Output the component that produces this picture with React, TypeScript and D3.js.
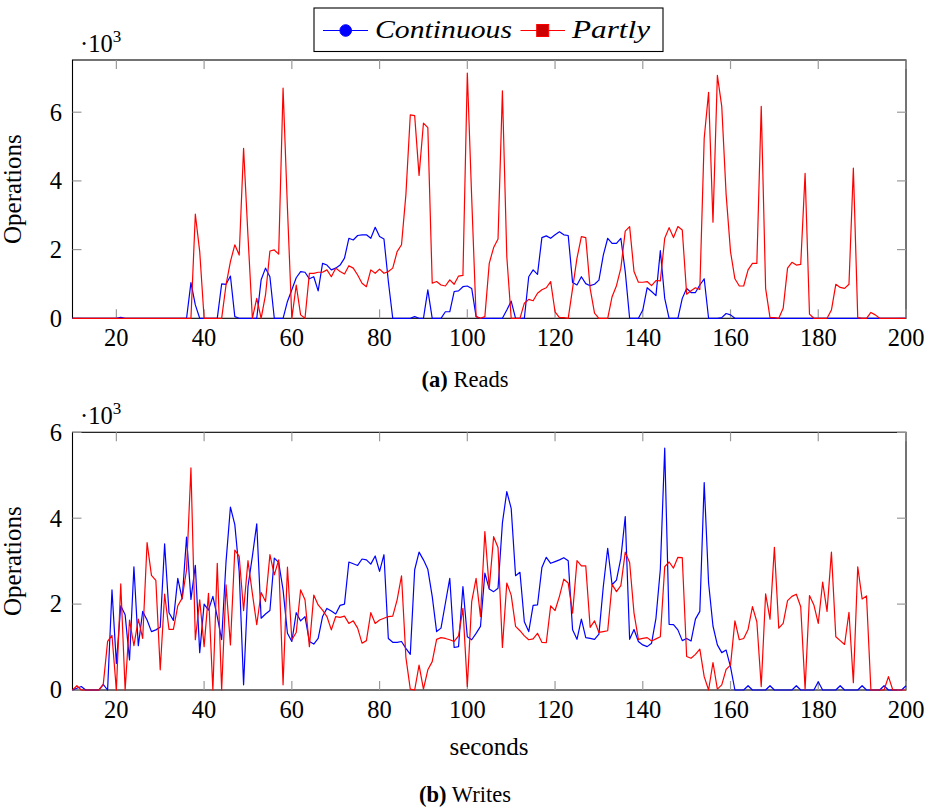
import * as d3 from 'd3'

// seconds 10..200, values in thousands of operations
const seconds = d3.range(10, 201)

const readsContinuous = [
  0, 0, 0, 0, 0, 0, 0, 0, 0, 0,
  0, 0.03, 0, 0, 0, 0, 0, 0, 0, 0,
  0, 0, 0, 0, 0, 0, 0, 1.04, 0.39, 0,
  0, 0, 0, 0, 1.0, 0.99, 1.23, 0.05, 0, 0,
  0, 0, 0, 1.12, 1.46, 1.21, 0, 0, 0, 0.49,
  0.83, 1.18, 1.36, 1.34, 1.15, 1.21, 0.8, 1.6, 1.55, 1.41,
  1.46, 1.55, 1.75, 2.33, 2.28, 2.41, 2.43, 2.43, 2.33, 2.65,
  2.38, 2.31, 1.07, 0, 0, 0, 0, 0, 0.05, 0,
  0, 0.83, 0, 0, 0, 0.19, 0.19, 0.78, 0.8, 0.92,
  0.94, 0.87, 0.05, 0, 0, 0, 0, 0, 0, 0.24,
  0.5, 0, 0, 0, 1.21, 1.41, 1.28, 2.35, 2.4, 2.33,
  2.43, 2.52, 2.43, 2.41, 1.04, 0.97, 1.21, 1.01, 0.95, 0.99,
  1.11, 1.84, 2.33, 2.18, 2.18, 2.33, 1.36, 0, 0, 0,
  0.24, 0.89, 0.78, 0.66, 1.97, 0.58, 0, 0, 0, 0.58,
  0.87, 0.75, 0.75, 0.97, 1.15, 0, 0, 0, 0.02, 0.14,
  0.1, 0, 0, 0, 0, 0, 0, 0, 0, 0,
  0, 0, 0, 0, 0, 0, 0, 0, 0, 0,
  0, 0, 0, 0, 0, 0, 0, 0, 0, 0,
  0, 0, 0, 0, 0, 0, 0, 0, 0, 0,
  0,
]

const readsPartly = [
  0, 0, 0, 0, 0, 0, 0, 0, 0, 0,
  0, 0, 0, 0, 0, 0, 0, 0, 0, 0,
  0, 0, 0, 0, 0, 0, 0, 0, 3.03, 1.94,
  0, 0, 0, 0, 0, 0.97, 1.65, 2.14, 1.84, 4.95,
  2.4, 0, 0.58, 0, 0.68, 1.96, 1.99, 1.87, 6.7, 3.2,
  0, 0.97, 0.1, 0, 1.31, 1.31, 1.34, 1.34, 1.41, 1.21,
  1.46, 1.36, 1.29, 1.53, 1.46, 1.26, 1.02, 0.92, 1.41, 1.31,
  1.43, 1.31, 1.36, 1.46, 1.94, 2.14, 3.6, 5.92, 5.9, 4.16,
  5.68, 5.55, 1.02, 1.07, 0.97, 0.94, 1.12, 0.99, 1.23, 1.25,
  7.14, 3.5, 0.05, 0, 0.05, 1.6, 2.06, 2.31, 6.62, 1.8,
  0, 0, 0, 0.44, 0.55, 0.51, 0.73, 0.83, 0.89, 1.07,
  0.19, 0.02, 0.02, 0, 0.87, 1.75, 2.38, 2.35, 0.87, 0.15,
  0, 0, 0, 0.63, 0.95, 1.46, 2.54, 2.67, 1.36, 1.05,
  1.05, 1.07, 0.95, 1.1, 1.09, 2.33, 2.64, 2.35, 2.67, 2.57,
  0.7, 0.8, 0.89, 0.84, 5.24, 6.58, 2.8, 7.07, 6.17, 3.6,
  1.94, 1.15, 0.94, 0.94, 1.41, 1.6, 1.6, 6.17, 0.87, 0.02,
  0.02, 0, 0.29, 1.46, 1.63, 1.55, 1.57, 4.22, 0.12, 0,
  0, 0, 0, 0.24, 0.99, 0.9, 0.87, 0.99, 4.37, 0.02,
  0, 0, 0.17, 0.1, 0, 0, 0, 0, 0, 0,
  0,
]

const writesContinuous = [
  0, 0.04, 0.08, 0, 0, 0, 0, 0.13, 0, 2.33,
  0.62, 1.96, 1.75, 0.7, 2.87, 1.03, 1.83, 1.63, 1.36, 1.4,
  1.46, 3.4, 1.8, 1.62, 2.6, 2.12, 3.56, 2.11, 2.9, 0.87,
  2.0, 1.86, 2.18, 1.71, 1.17, 2.99, 4.26, 3.85, 2.76, 0.12,
  2.41, 3.11, 3.87, 1.67, 1.77, 1.85, 3.07, 2.97, 2.33, 1.32,
  1.13, 1.8, 1.61, 1.71, 1.13, 1.07, 1.2, 1.71, 1.9, 1.84,
  1.77, 1.97, 2.0, 2.98, 2.94, 2.9, 3.05, 3.03, 2.93, 3.12,
  2.76, 3.15, 1.2, 1.11, 1.11, 1.13, 0.97, 0.83, 2.8, 3.21,
  3.03, 2.81, 2.18, 1.36, 1.44, 2.02, 2.6, 0.99, 1.01, 2.41,
  1.24, 1.17, 1.32, 1.48, 2.72, 2.35, 2.29, 2.37, 3.89, 4.62,
  4.23, 2.66, 2.74, 1.59, 1.36, 1.97, 1.98, 2.85, 3.09, 2.95,
  2.99, 3.03, 3.08, 3.01, 1.4, 1.18, 1.65, 1.22, 1.2, 1.18,
  1.3, 2.41, 3.3, 2.45, 2.56, 3.07, 4.04, 1.18, 1.41, 1.13,
  1.05, 1.01, 1.09, 1.67, 2.81, 5.63, 1.53, 1.52, 1.4, 1.15,
  1.2, 1.14, 1.65, 1.83, 4.83, 2.49, 1.49, 1.05, 0.87, 0.93,
  0.54, 0, 0, 0, 0.1, 0, 0, 0, 0, 0.1,
  0, 0, 0, 0, 0, 0.1, 0, 0, 0, 0,
  0.19, 0, 0, 0, 0, 0.1, 0, 0, 0, 0,
  0.1, 0, 0, 0, 0, 0.1, 0, 0, 0, 0,
  0.1,
]

const writesPartly = [
  0, 0.1, 0, 0, 0, 0, 0, 0.12, 1.13, 1.27,
  0, 2.47, 0, 1.63, 1.03, 1.65, 1.2, 3.43, 2.67, 2.55,
  0.47, 2.23, 1.41, 1.41, 1.96, 2.14, 2.8, 5.17, 1.17, 2.1,
  1.01, 2.25, 0, 2.95, 0, 2.45, 1.05, 3.26, 3.11, 1.85,
  3.01, 2.25, 1.52, 2.27, 2.06, 3.15, 2.68, 3.03, 0.12, 2.86,
  1.17, 1.34, 2.33, 2.1, 1.01, 2.21, 1.98, 1.86, 1.71, 1.4,
  1.71, 1.69, 1.72, 1.55, 1.61, 1.44, 1.09, 1.15, 1.8, 1.55,
  1.63, 1.67, 1.71, 1.72, 2.1, 2.66, 0.76, 0.02, 0, 0.58,
  0.02, 0.47, 0.66, 1.18, 1.22, 1.2, 1.17, 1.13, 1.26, 1.9,
  0.08, 2.06, 2.6, 1.71, 3.69, 2.37, 3.57, 3.32, 0.99, 2.49,
  2.21, 1.48, 1.38, 1.26, 1.17, 1.19, 1.32, 1.11, 1.1, 1.96,
  1.85, 2.18, 2.58, 2.49, 1.79, 3.01, 2.89, 2.89, 1.46, 1.61,
  1.34, 1.36, 1.38, 2.46, 2.29, 2.43, 3.21, 2.97, 1.79, 1.18,
  1.2, 1.22, 1.14, 1.19, 1.24, 2.87, 2.98, 2.84, 3.09, 3.08,
  0.78, 0.74, 0.83, 0.95, 0.31, 0, 0.64, 0.02, 0.12, 0.48,
  0.58, 1.61, 1.17, 1.2, 1.41, 1.94, 1.59, 0.08, 2.24, 1.65,
  3.32, 1.44, 1.55, 2.08, 2.18, 2.23, 1.94, 0.02, 2.2, 1.98,
  1.55, 2.51, 1.83, 3.21, 1.24, 1.15, 1.06, 1.81, 0.17, 2.87,
  2.12, 2.19, 0, 0, 0, 0, 0.31, 0, 0, 0,
  0,
]

const xTicks = [20, 40, 60, 80, 100, 120, 140, 160, 180, 200]
const yTicks = [0, 2, 4, 6]

const FONT = '"Liberation Serif", "Times New Roman", serif'
const BLUE = '#0000ff'
const RED = '#ff0000'

const plotLeft = 72.5
const plotRight = 906
const tickLen = 9

function Panel({ top, bottom, yMax, continuous, partly, caption, captionY, showXLabel }) {
  const x = d3.scaleLinear().domain([10, 200]).range([plotLeft, plotRight])
  const y = d3.scaleLinear().domain([0, yMax]).range([bottom, top])

  const line = d3.line<number>()
    .x((d, i) => x(seconds[i]))
    .y(d => y(d))

  const midY = (top + bottom) / 2

  return (
    <g>
      {/* frame */}
      <rect x={plotLeft} y={top} width={plotRight - plotLeft} height={bottom - top}
        fill="none" stroke="#000" strokeWidth={1.1} />

      {/* ticks inside, all four sides */}
      {xTicks.map(t => (
        <g key={'xt' + t}>
          <line x1={x(t)} x2={x(t)} y1={bottom} y2={bottom - tickLen} stroke="#9a9a9a" strokeWidth={1.2} />
          <line x1={x(t)} x2={x(t)} y1={top} y2={top + tickLen} stroke="#9a9a9a" strokeWidth={1.2} />
          <text x={x(t)} y={bottom + 28} textAnchor="middle" fontSize={24.5} fontFamily={FONT}>{t}</text>
        </g>
      ))}
      {yTicks.map(t => (
        <g key={'yt' + t}>
          <line x1={plotLeft} x2={plotLeft + tickLen} y1={y(t)} y2={y(t)} stroke="#9a9a9a" strokeWidth={1.2} />
          <line x1={plotRight} x2={plotRight - tickLen} y1={y(t)} y2={y(t)} stroke="#9a9a9a" strokeWidth={1.2} />
          <text x={62} y={y(t)} dy="0.34em" textAnchor="end" fontSize={24.5} fontFamily={FONT}>{t}</text>
        </g>
      ))}

      {/* data */}
      <path d={line(continuous) || ''} fill="none" stroke={BLUE} strokeWidth={1.2} strokeLinejoin="round" />
      <path d={line(partly) || ''} fill="none" stroke={RED} strokeWidth={1.2} strokeLinejoin="round" />

      {/* scale label */}
      <text x={80} y={top - 8} fontSize={24.5} fontFamily={FONT}>
        {'\u00b710'}
        <tspan fontSize={17} dy={-10}>3</tspan>
      </text>

      {/* y label */}
      <text transform={`translate(21,${midY}) rotate(-90)`} textAnchor="middle"
        fontSize={25} fontFamily={FONT}>Operations</text>

      {showXLabel && (
        <text x={489} y={755} textAnchor="middle" fontSize={25} fontFamily={FONT}>seconds</text>
      )}

      {/* caption */}
      <text x={465} y={captionY} textAnchor="middle" fontSize={22.5} fontFamily={FONT}>
        <tspan fontWeight="bold">{caption[0]}</tspan>
        {' ' + caption[1]}
      </text>
    </g>
  )
}

function Legend() {
  return (
    <g>
      <rect x={314} y={8} width={349} height={43.5} fill="#fff" stroke="#000" strokeWidth={1.1} />
      <line x1={323} x2={368} y1={30.5} y2={30.5} stroke={BLUE} strokeWidth={1.2} />
      <circle cx={345.7} cy={30.5} r={5.8} fill={BLUE} stroke={BLUE} />
      <text x={375} y={37.5} fontSize={25} fontStyle="italic" fontFamily={FONT}
        textLength={137} lengthAdjust="spacingAndGlyphs">Continuous</text>
      <line x1={520.5} x2={565} y1={30.5} y2={30.5} stroke={RED} strokeWidth={1.2} />
      <rect x={536.7} y={24.5} width={12} height={12} fill="#cc0000" stroke={RED} strokeWidth={1} />
      <text x={572} y={37.5} fontSize={25} fontStyle="italic" fontFamily={FONT}
        textLength={78} lengthAdjust="spacingAndGlyphs">Partly</text>
    </g>
  )
}

export default function App() {
  return (
    <div style={{ position: 'absolute', left: 0, top: 0, width: 930, height: 810, background: '#fff' }}>
      <svg width={930} height={810} style={{ display: 'block' }}>
        <rect width={930} height={810} fill="#fff" />
        <Panel top={60} bottom={318.3} yMax={7.52} continuous={readsContinuous} partly={readsPartly}
          caption={['(a)', 'Reads']} captionY={387} showXLabel={false} />
        <Panel top={432.3} bottom={690} yMax={6} continuous={writesContinuous} partly={writesPartly}
          caption={['(b)', 'Writes']} captionY={802} showXLabel={true} />
        <Legend />
      </svg>
    </div>
  )
}
